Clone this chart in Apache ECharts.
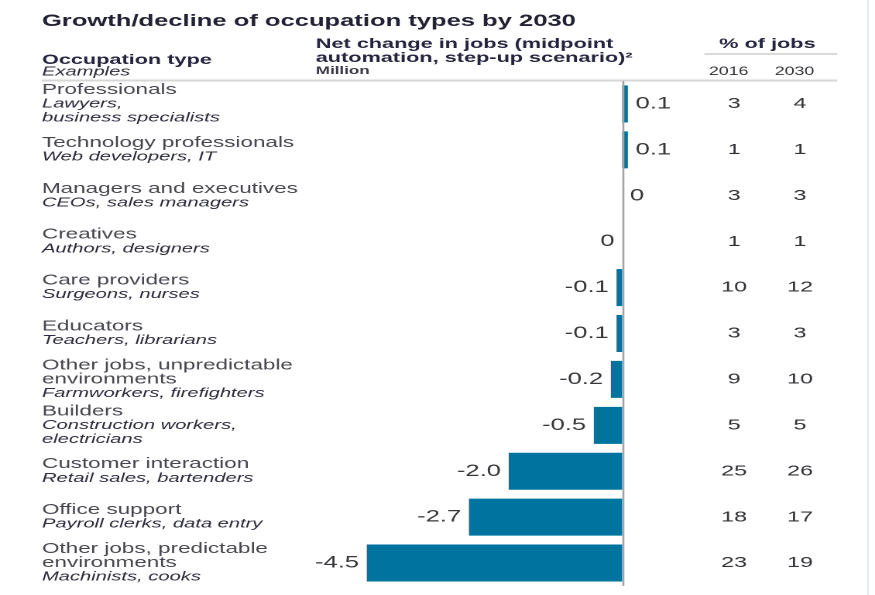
<!DOCTYPE html>
<html>
<head>
<meta charset="utf-8">
<script src="https://cdn.jsdelivr.net/npm/echarts@6/dist/echarts.min.js"></script>
<style>
  html, body { margin: 0; padding: 0; background: #fff; overflow: hidden; }
  #wrap { width: 875px; height: 595px; overflow: hidden; }
  /* the chart is laid out narrow and widened horizontally, giving the wide lettering */
  #chart { width: 565px; height: 595px; transform: scaleX(1.5487); transform-origin: 0 0; }
</style>
</head>
<body>
<div id="wrap"><div id="chart"></div></div>
<script>
// Occupation groups, top to bottom
const occupations = [
  'Professionals',
  'Technology professionals',
  'Managers and executives',
  'Creatives',
  'Care providers',
  'Educators',
  'Other jobs, unpredictable\nenvironments',
  'Builders',
  'Customer interaction',
  'Office support',
  'Other jobs, predictable\nenvironments'
];
const examples = [
  'Lawyers,\nbusiness specialists',
  'Web developers, IT',
  'CEOs, sales managers',
  'Authors, designers',
  'Surgeons, nurses',
  'Teachers, librarians',
  'Farmworkers, firefighters',
  'Construction workers,\nelectricians',
  'Retail sales, bartenders',
  'Payroll clerks, data entry',
  'Machinists, cooks'
];
// Net change in jobs, million (-0 marks a decline that rounds to zero)
const netChange = [0.1, 0.1, 0, -0, -0.1, -0.1, -0.2, -0.5, -2.0, -2.7, -4.5];
// Share of jobs, %
const share2016 = [3, 1, 3, 1, 10, 3, 9, 5, 25, 18, 23];
const share2030 = [4, 1, 3, 1, 12, 3, 10, 5, 26, 17, 19];
const shareYears = ['2016', '2030'];

const FONT = '"Liberation Sans", Arial, Helvetica, sans-serif';
const isNegative = v => v < 0 || Object.is(v, -0);

const chart = echarts.init(document.getElementById('chart'), null, { devicePixelRatio: 2 });

const barData = netChange.map(v => ({
  value: v,
  label: { position: isNegative(v) ? 'left' : 'right' }
}));

function nameLabel(value, idx) {
  const nameLines = occupations[idx].split('\n').map(s => '{n|' + s + '}');
  const exLines = examples[idx].split('\n').map(s => '{e|' + s + '}');
  return nameLines.concat(exLines).join('\n');
}

function headerText(text, x, y, font, fill, align) {
  return {
    type: 'text', x: x, y: y, silent: true,
    style: { text: text, font: font, fill: fill, textAlign: align || 'left', textVerticalAlign: 'middle' }
  };
}

chart.setOption({
  animation: false,
  backgroundColor: '#fff',
  textStyle: { fontFamily: FONT },
  grid: { left: 218.5, right: 126.6, top: 81, bottom: 9, containLabel: false, outerBoundsMode: 'none' },
  xAxis: {
    type: 'value', min: -5, max: 1, show: false,
    splitLine: { show: false }
  },
  yAxis: [
    {
      type: 'category', data: occupations, inverse: true, position: 'left',
      axisLine: { show: false }, axisTick: { show: false }, splitLine: { show: false },
      axisLabel: {
        interval: 0, align: 'left', margin: 191.4,
        formatter: nameLabel,
        rich: {
          n: { fontFamily: FONT, fontSize: 14.5, lineHeight: 14, color: '#47474f' },
          e: { fontFamily: FONT, fontSize: 13, fontStyle: 'italic', lineHeight: 14, color: '#2c2c3c' }
        }
      }
    },
    {
      type: 'category', data: occupations, inverse: true, position: 'right',
      axisLine: { show: false }, axisTick: { show: false }, splitLine: { show: false },
      axisLabel: {
        interval: 0, align: 'left', margin: 14.3,
        formatter: (value, idx) => '{a|' + share2016[idx] + '}{b|' + share2030[idx] + '}',
        rich: {
          a: { fontFamily: FONT, fontSize: 15, width: 42.6, align: 'center', color: '#333338' },
          b: { fontFamily: FONT, fontSize: 15, width: 42.6, align: 'center', color: '#333338' }
        }
      }
    }
  ],
  series: [{
    type: 'bar',
    yAxisIndex: 0,
    data: barData,
    barWidth: 37,
    clip: false,
    itemStyle: { color: '#00749f' },
    label: {
      show: true, distance: 5, fontFamily: FONT, fontSize: 16.5, color: '#38383c',
      formatter: p => (p.value === 0 ? '0' : p.value.toFixed(1))
    },
    markLine: {
      silent: true, symbol: 'none',
      label: { show: false },
      lineStyle: { color: '#a4a4a4', width: 1.3, type: 'solid' },
      data: [{ xAxis: 0 }]
    }
  }],
  graphic: [
    headerText('Growth/decline of occupation types by 2030', 27.1, 21.5, 'bold 16.5px ' + FONT, '#222234'),
    headerText('Occupation type', 27.1, 60, 'bold 14px ' + FONT, '#25253f'),
    headerText('Examples', 27.1, 72, 'italic 13px ' + FONT, '#2c2c3c'),
    headerText('Net change in jobs (midpoint', 203.9, 44, 'bold 14px ' + FONT, '#25253f'),
    headerText('automation, step-up scenario)\u00B2', 203.9, 58, 'bold 14px ' + FONT, '#25253f'),
    headerText('Million', 203.9, 71, 'bold 11px ' + FONT, '#3a3a48'),
    headerText('% of jobs', 495.5, 44, 'bold 14px ' + FONT, '#25253f', 'center'),
    headerText(shareYears[0], 470.5, 72, '11.5px ' + FONT, '#333338', 'center'),
    headerText(shareYears[1], 513, 72, '11.5px ' + FONT, '#333338', 'center'),
    {
      type: 'line', silent: true,
      shape: { x1: 454.8, y1: 54, x2: 540.6, y2: 54 },
      style: { stroke: '#dadada', lineWidth: 2 }
    },
    {
      type: 'line', silent: true,
      shape: { x1: 27.1, y1: 80.5, x2: 540.6, y2: 80.5 },
      style: { stroke: '#d6d6d6', lineWidth: 2 }
    },
    {
      type: 'line', silent: true,
      shape: { x1: 560.5, y1: 0, x2: 560.5, y2: 595 },
      style: { stroke: '#e2edf6', lineWidth: 1.2 }
    }
  ]
});
</script>
</body>
</html>
